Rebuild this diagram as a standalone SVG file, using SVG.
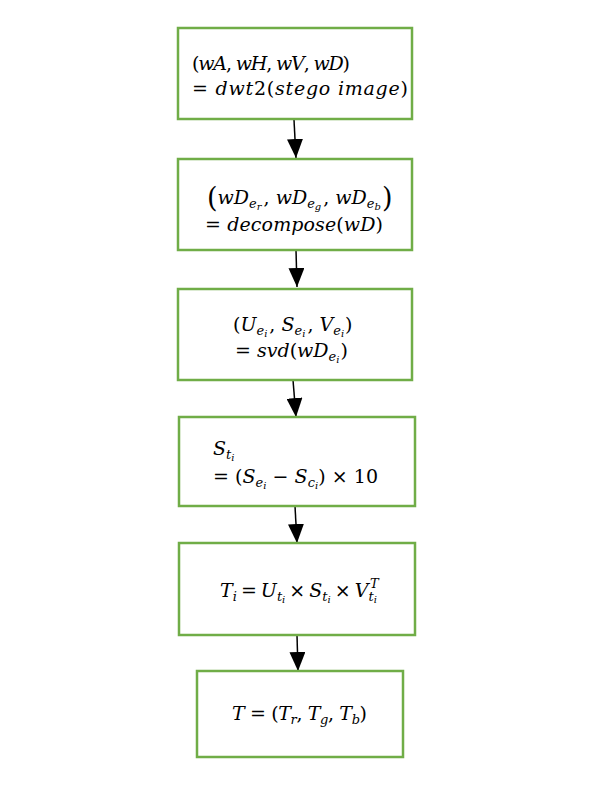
<svg xmlns="http://www.w3.org/2000/svg" width="598" height="799" viewBox="0 0 598 799">
<style>
.box{fill:#fff;stroke:#70AD47;stroke-width:2.5}
.m{font-family:"DejaVu Serif","Liberation Serif",serif;font-size:19px;fill:#000}
.i{font-style:italic}
.s{font-size:13px}
.ss{font-size:10px}
.big{font-size:27px}
.conn{stroke:#000;stroke-width:1.5;fill:none;marker-end:url(#ah)}
</style>
<defs>
<marker id="ah" markerUnits="userSpaceOnUse" markerWidth="19" markerHeight="16" viewBox="0 0 19 16" refX="19" refY="8" orient="auto"><path d="M0,0 L19,8 L0,16 Z" fill="#000"/></marker>
</defs>
<rect width="598" height="799" fill="#fff"/>
<g id="connectors">
<path class="conn" d="M294,120 L296,158"/>
<path class="conn" d="M296,250 L297,287"/>
<path class="conn" d="M293,380 L296,417"/>
<path class="conn" d="M295,506 L297,543"/>
<path class="conn" d="M297,635 L298,671"/>
</g>
<g id="n1">
<rect class="box" x="178" y="28" width="234" height="91"/>
<text class="m" x="192" y="70" textLength="158">(<tspan class="i">wA</tspan>, <tspan class="i">wH</tspan>, <tspan class="i">wV</tspan>, <tspan class="i">wD</tspan>)</text>
<text class="m" x="192" y="95" textLength="216">= <tspan class="i">dwt</tspan>2(<tspan class="i">stego image</tspan>)</text>
</g>
<g id="n2">
<rect class="box" x="178" y="159" width="234" height="91"/>
<text class="m" x="207" y="204"><tspan class="big" dy="3">(</tspan><tspan class="i" dy="-3">wD</tspan><tspan class="i s" dy="4">e</tspan><tspan class="i ss" dy="2">r</tspan><tspan dx="2" dy="-6">, </tspan><tspan class="i">wD</tspan><tspan class="i s" dy="4">e</tspan><tspan class="i ss" dy="2">g</tspan><tspan dx="2" dy="-6">, </tspan><tspan class="i">wD</tspan><tspan class="i s" dy="4">e</tspan><tspan class="i ss" dy="2">b</tspan><tspan class="big" dx="1" dy="-3">)</tspan></text>
<text class="m" x="205" y="231" textLength="178">= <tspan class="i">decompose</tspan>(<tspan class="i">wD</tspan>)</text>
</g>
<g id="n3">
<rect class="box" x="178" y="289" width="234" height="91"/>
<text class="m" x="233" y="331">(<tspan class="i">U</tspan><tspan class="i s" dy="4">e</tspan><tspan class="i ss" dy="2">i</tspan><tspan dx="2" dy="-6">, </tspan><tspan class="i">S</tspan><tspan class="i s" dy="4">e</tspan><tspan class="i ss" dy="2">i</tspan><tspan dx="2" dy="-6">, </tspan><tspan class="i">V</tspan><tspan class="i s" dy="4">e</tspan><tspan class="i ss" dy="2">i</tspan><tspan dx="1" dy="-6">)</tspan></text>
<text class="m" x="235" y="357">= <tspan class="i">svd</tspan>(<tspan class="i">wD</tspan><tspan class="i s" dy="4">e</tspan><tspan class="i ss" dy="2">i</tspan><tspan dx="1" dy="-6">)</tspan></text>
</g>
<g id="n4">
<rect class="box" x="179" y="417" width="236" height="89"/>
<text class="m" x="213" y="455"><tspan class="i">S</tspan><tspan class="i s" dy="4">t</tspan><tspan class="i ss" dy="2">i</tspan></text>
<text class="m" x="213" y="483" textLength="165">= (<tspan class="i">S</tspan><tspan class="i s" dy="4">e</tspan><tspan class="i ss" dy="2">i</tspan><tspan dy="-6"> − </tspan><tspan class="i">S</tspan><tspan class="i s" dy="4">c</tspan><tspan class="i ss" dy="2">i</tspan><tspan dy="-6">) × 10</tspan></text>
</g>
<g id="n5">
<rect class="box" x="179" y="543" width="236" height="92"/>
<text class="m" x="220" y="597" word-spacing="-2"><tspan class="i">T</tspan><tspan class="i s" dy="4">i</tspan><tspan dy="-4"> = </tspan><tspan class="i">U</tspan><tspan class="i s" dy="4">t</tspan><tspan class="i ss" dy="2">i</tspan><tspan dy="-6"> × </tspan><tspan class="i">S</tspan><tspan class="i s" dy="4">t</tspan><tspan class="i ss" dy="2">i</tspan><tspan dy="-6"> × </tspan><tspan class="i">V</tspan><tspan class="i s" dy="4">t</tspan><tspan class="i ss" dy="2">i</tspan><tspan class="i s" dx="-7" dy="-15">T</tspan></text>
</g>
<g id="n6">
<rect class="box" x="197" y="671" width="206" height="86"/>
<text class="m" x="232" y="720" textLength="135"><tspan class="i">T</tspan> = (<tspan class="i">T</tspan><tspan class="i s" dy="4">r</tspan><tspan dy="-4">, </tspan><tspan class="i">T</tspan><tspan class="i s" dy="4">g</tspan><tspan dy="-4">, </tspan><tspan class="i">T</tspan><tspan class="i s" dy="4">b</tspan><tspan dy="-4">)</tspan></text>
</g>
</svg>
